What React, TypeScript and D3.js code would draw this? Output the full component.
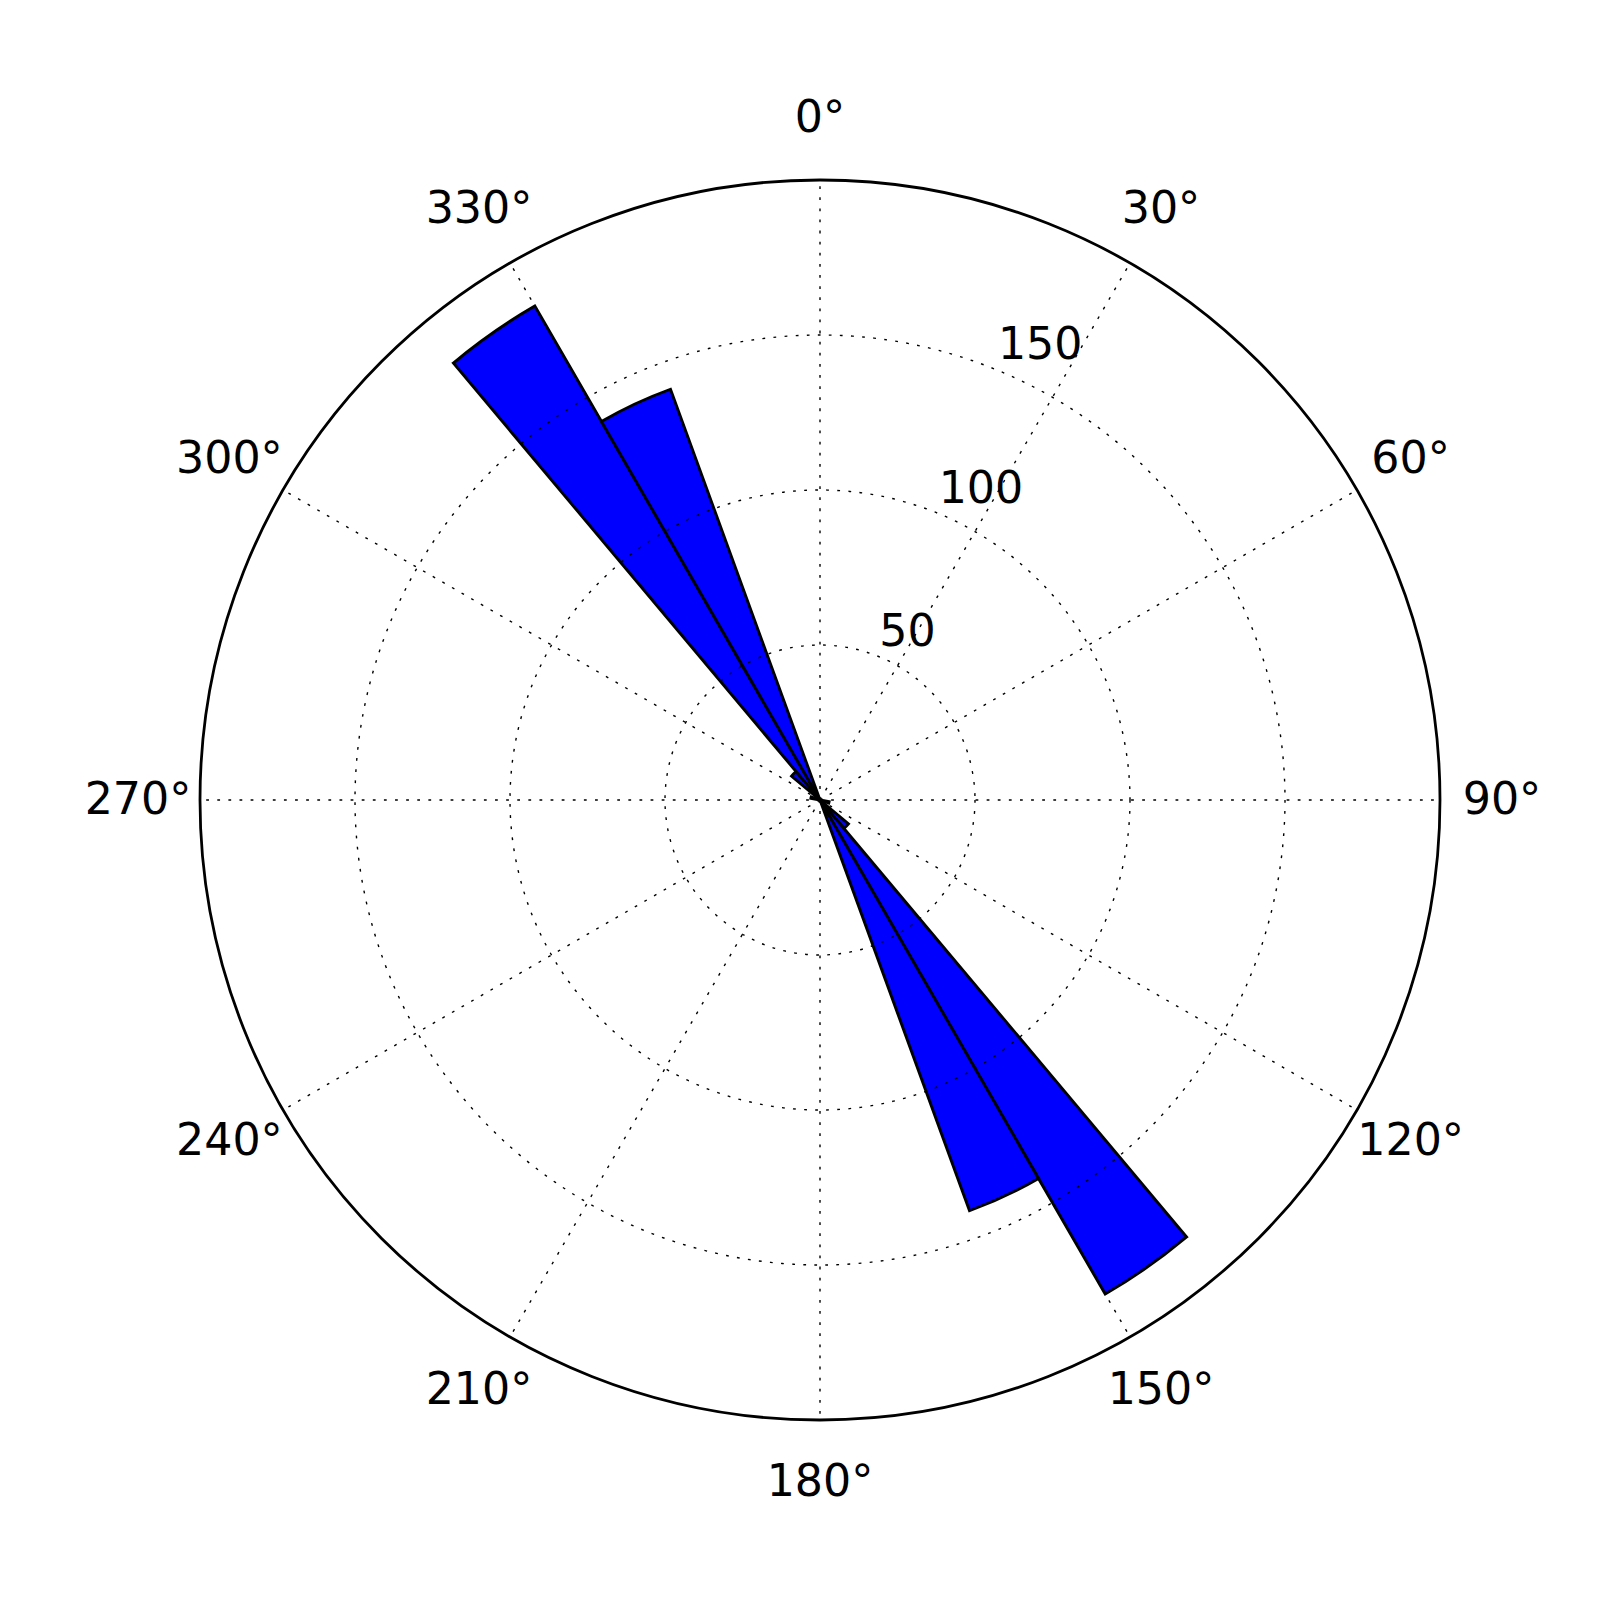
import React from "react";
import * as d3 from "d3";

// Bin start angles (degrees, clockwise from north), bin width 10°
const binStarts: number[] = [100, 130, 140, 150, 280, 310, 320, 330];
const binCounts: number[] = [3, 12, 184, 141, 3, 12, 184, 141];
const binWidth = 10;

const thetaTicks: number[] = [0, 30, 60, 90, 120, 150, 180, 210, 240, 270, 300, 330];
const radialTicks: number[] = [50, 100, 150];
const rMax = 200;

const W = 1600;
const H = 1600;
const CX = 820;
const CY = 800;
const R = 620;
const FONT = "'DejaVu Sans', sans-serif";
const FS = 44.3;

export default function App() {
  const r = d3.scaleLinear().domain([0, rMax]).range([0, R]);
  const toRad = (deg: number) => (deg * Math.PI) / 180;
  const arc = d3.arc<any>();
  const pt = (deg: number, rad: number): [number, number] => [
    Math.sin(toRad(deg)) * rad,
    -Math.cos(toRad(deg)) * rad,
  ];

  const dotted = { stroke: "#000", strokeWidth: 1.39, strokeDasharray: "2.78 8.33", fill: "none" };

  return (
    <svg
      width={W}
      height={H}
      style={{ position: "absolute", left: 0, top: 0, background: "#fff" }}
      xmlns="http://www.w3.org/2000/svg"
    >
      <rect x={0} y={0} width={W} height={H} fill="#fff" />
      <g transform={`translate(${CX},${CY})`}>
        {/* bars */}
        {binStarts.map((s, i) => (
          <path
            key={"b" + i}
            d={
              arc({
                innerRadius: 0,
                outerRadius: r(binCounts[i]),
                startAngle: toRad(s),
                endAngle: toRad(s + binWidth),
              }) as string
            }
            fill="#0000ff"
            stroke="#000"
            strokeWidth={2.9}
            strokeLinejoin="miter"
          />
        ))}
        {/* angular grid */}
        {thetaTicks.map((t) => {
          const [x, y] = pt(t, R);
          return <line key={"tg" + t} x1={0} y1={0} x2={x} y2={y} {...dotted} />;
        })}
        {/* radial grid */}
        {radialTicks.map((v) => (
          <circle key={"rg" + v} cx={0} cy={0} r={r(v)} {...dotted} />
        ))}
        {/* outer frame */}
        <circle cx={0} cy={0} r={r(rMax)} fill="none" stroke="#000" strokeWidth={2.78} />
        {/* theta labels */}
        {thetaTicks.map((t) => {
          const [x, y] = pt(t, R * 1.1);
          return (
            <text
              key={"tl" + t}
              x={x}
              y={y + 13.5}
              textAnchor="middle"
              fontFamily={FONT}
              fontSize={FS}
              fill="#000"
            >
              {`${t}°`}
            </text>
          );
        })}
        {/* radial labels */}
        {radialTicks.map((v) => {
          const [x, y] = pt(22.5, r(v));
          return (
            <text
              key={"rl" + v}
              x={x}
              y={y - 11}
              textAnchor="start"
              fontFamily={FONT}
              fontSize={FS}
              fill="#000"
            >
              {v}
            </text>
          );
        })}
      </g>
    </svg>
  );
}
